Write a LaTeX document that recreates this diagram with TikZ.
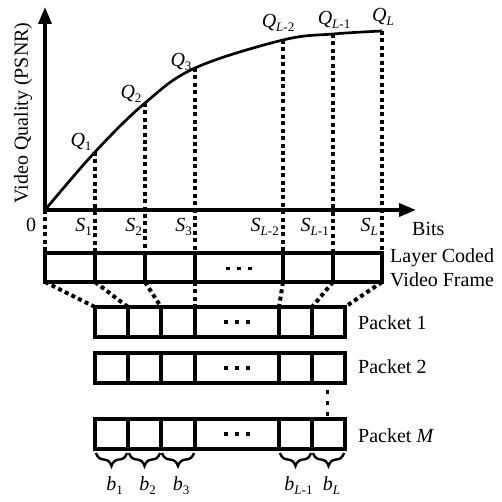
\documentclass[tikz,border=0pt]{standalone}
\usepackage{fontspec}
\setmainfont{Liberation Serif}
\usetikzlibrary{arrows.meta,decorations.pathreplacing,calc}
\newcommand\sbs[1]{\raisebox{-4pt}{\fontsize{13}{13}\selectfont #1}}
\begin{document}
\begin{tikzpicture}[x=1pt,y=-1pt,
  every node/.style={font=\fontsize{20}{23}\selectfont, inner sep=0pt},
  axis/.style={line width=3.5pt},
  guide/.style={line width=4pt, dash pattern=on 4pt off 3.4pt},
  cellbox/.style={line width=4pt},
  qcurve/.style={line width=2.7pt},
  brc/.style={decorate, decoration={brace,mirror,amplitude=13pt}, line width=2.4pt},
  arr/.style={-{Triangle[length=17pt,width=13pt]}},
  ]
\useasboundingbox (0,0) rectangle (502,502);

% curve points
\coordinate (Q0) at (45,210);
\coordinate (Q1) at (95,152);
\coordinate (Q2) at (145,103);
\coordinate (Q3) at (195,68);
\coordinate (Q4) at (283,40);
\coordinate (Q5) at (333,34);
\coordinate (Q6) at (382,31);
\coordinate (xend) at (416,210);
\coordinate (yend) at (45,7);

% frame corners
\foreach \i/\x in {0/45,1/95,2/145,3/195,4/283,5/333,6/382} {
  \coordinate (ft\i) at (\x,253);
  \coordinate (fb\i) at (\x,282);
}
% packet 1 top corners
\foreach \i/\x in {0/95,1/128,2/161,3/195,4/279,5/312,6/345} {
  \coordinate (p\i) at (\x,307);
}

% guide lines
\foreach \i in {0,...,6} \draw[guide] (Q\i) -- (ft\i);
\foreach \i in {0,...,6} \draw[guide] (fb\i) -- (p\i);

% axes
\draw[axis,arr] ([xshift=-1.75pt]Q0) -- (xend);
\draw[axis,arr] ([yshift=-1.75pt]Q0) -- (yend);

% curve
\draw[qcurve] plot[smooth, tension=0.6] coordinates {(Q0) (Q1) (Q2) (Q3) (Q4) (Q5) (Q6)};

% axis labels
\node[rotate=90] (ylab) at (23,113) {Video Quality (PSNR)};
\node[anchor=base west] (bits) at (412,235) {Bits};
\node[anchor=base] (zero) at (31,232) {0};

% Q labels
\node[anchor=base] (lq1) at (81,147) {\textit{Q}\sbs{1}};
\node[anchor=base] (lq2) at (131,99) {\textit{Q}\sbs{2}};
\node[anchor=base] (lq3) at (181,67) {\textit{Q}\sbs{3}};
\node[anchor=base] (lq4) at (278,28) {\textit{Q}\sbs{\textit{L}-2}};
\node[anchor=base] (lq5) at (334,25) {\textit{Q}\sbs{\textit{L}-1}};
\node[anchor=base] (lq6) at (383,22) {\textit{Q}\sbs{\textit{L}}};

% S labels
\node[anchor=base east] (ls1) at (92,232) {\textit{S}\sbs{1}};
\node[anchor=base east] (ls2) at (142,232) {\textit{S}\sbs{2}};
\node[anchor=base east] (ls3) at (192,232) {\textit{S}\sbs{3}};
\node[anchor=base east] (ls4) at (279,232) {\textit{S}\sbs{\textit{L}-2}};
\node[anchor=base east] (ls5) at (329,232) {\textit{S}\sbs{\textit{L}-1}};
\node[anchor=base east] (ls6) at (378,232) {\textit{S}\sbs{\textit{L}}};

% layer coded frame
\draw[cellbox] (ft0) rectangle (fb6);
\foreach \i in {1,2,3,4,5} \draw[cellbox] (ft\i) -- (fb\i);
\foreach \dx in {-11,0,11} \fill (239+\dx-1.75,266.5) rectangle +(3.5,3.5);
\node[anchor=base west] (lframe1) at (390,262) {Layer Coded};
\node[anchor=base west] (lframe2) at (390,286) {Video Frame};

% packets
\foreach \t/\b/\lab/\bl in {307/337/Packet 1/329, 353/383/Packet 2/373, 419/449/Packet \textit{M}/442} {
  \draw[cellbox] (95,\t) rectangle (345,\b);
  \foreach \x in {128,161,195,279,312} \draw[cellbox] (\x,\t) -- (\x,\b);
  \foreach \dx in {-11,0,11} \fill (237+\dx-1.75,{(\t+\b)/2-1.75}) rectangle +(3.5,3.5);
  \node[anchor=base west] at (358,\bl) {\lab};
}
% vertical dots
\foreach \y in {390,401,412} \fill (325.5,\y) rectangle +(3.5,3.5);

% braces
\foreach \a/\c/\lab in {95/128/{\textit{b}\sbs{1}}, 128/161/{\textit{b}\sbs{2}}, 161/195/{\textit{b}\sbs{3}}, 279/312/{\textit{b}\sbs{\textit{L}-1}}, 312/345/{\textit{b}\sbs{\textit{L}}}} {
  \coordinate (ba) at (\a+1,453);
  \coordinate (bc) at (\c-1,453);
  \draw[brc] (ba) -- (bc);
  \node[anchor=base] at ({(\a+\c)/2+3},490) {\lab};
}
\end{tikzpicture}
\end{document}
